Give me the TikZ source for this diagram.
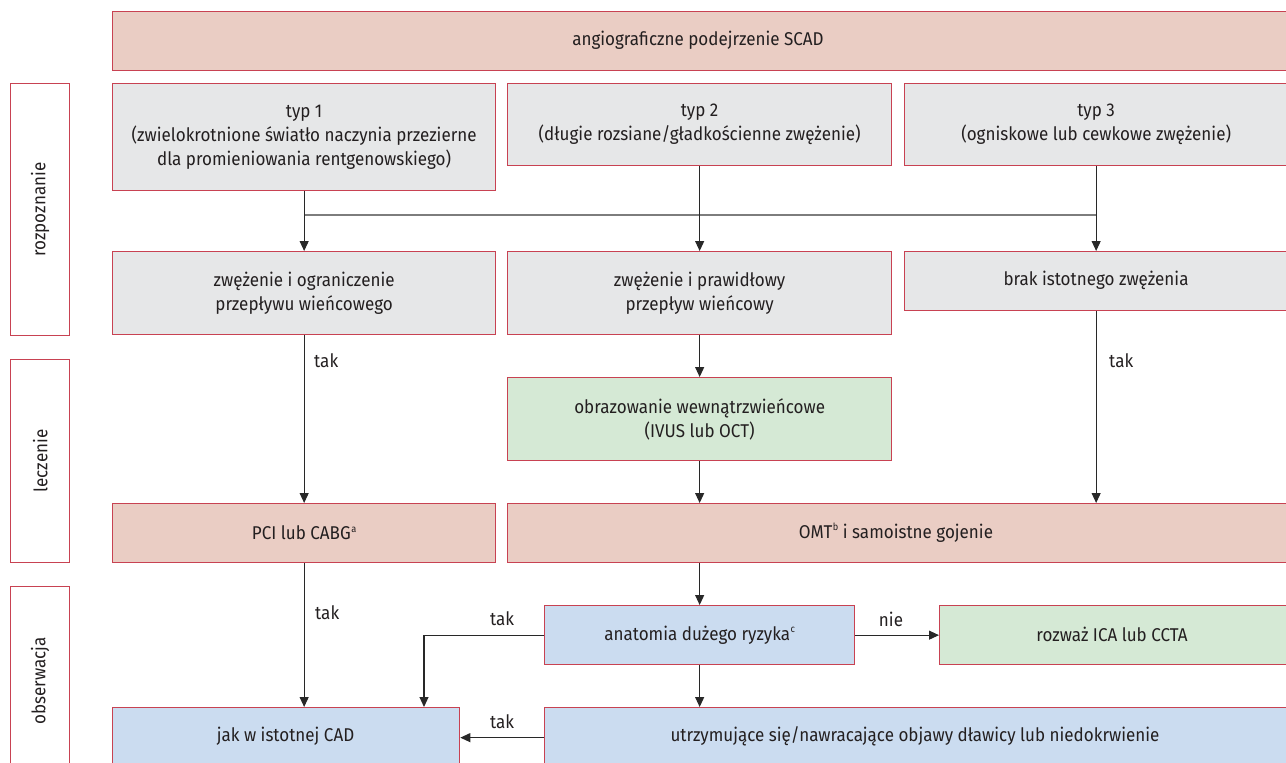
\documentclass[tikz,border=0pt]{standalone}
\usepackage{fontspec}
\setmainfont{Fira Sans}[FakeStretch=0.92]
\usetikzlibrary{arrows.meta}
\definecolor{redline}{RGB}{200,66,82}
\definecolor{pinkfill}{RGB}{234,205,196}
\definecolor{grayfill}{RGB}{230,231,232}
\definecolor{greenfill}{RGB}{213,233,213}
\definecolor{bluefill}{RGB}{203,220,240}
\definecolor{txt}{RGB}{35,31,32}
\definecolor{conn}{RGB}{40,40,40}
\definecolor{hconn}{RGB}{125,125,125}
\newcommand{\supmark}[1]{\kern0.5pt\raisebox{0.42em}{\fontsize{10}{10}\selectfont #1}}
\tikzset{
  bx/.style={draw=redline, line width=1.3pt, inner sep=0pt, anchor=north west, align=center, text=txt, font=\fontsize{18.5}{24}\selectfont},
  pinkbox/.style={bx, fill=pinkfill},
  graybox/.style={bx, fill=grayfill},
  greenbox/.style={bx, fill=greenfill},
  bluebox/.style={bx, fill=bluefill},
  sidebox/.style={bx, fill=white},
  arr/.style={draw=conn, line width=1.1pt, -{Triangle[length=10pt,width=9pt]}},
  hln/.style={draw=hconn, line width=1.1pt},
  lbl/.style={text=txt, font=\fontsize{18.5}{24}\selectfont, inner sep=0pt}
}
\begin{document}
\begin{tikzpicture}[x=1pt,y=-1pt]
\useasboundingbox (0,0) rectangle (1286,763);
\clip (0,0) rectangle (1286,763);
% side labels
\node[sidebox, minimum width=59pt, minimum height=252pt] (s1) at (10,83) {};
\node[lbl, rotate=90] at (s1.center) {rozpoznanie};
\node[sidebox, minimum width=59pt, minimum height=203pt] (s2) at (10,359) {};
\node[lbl, rotate=90] at (s2.center) {leczenie};
\node[sidebox, minimum width=59pt, minimum height=181pt] (s3) at (10,586) {};
\node[lbl, rotate=90] at ([yshift=-4pt]s3.center) {obserwacja};
% top
\node[pinkbox, minimum width=1175pt, minimum height=59pt] (top) at (112,11) {};
\node[lbl] at (698,40.5) {angiograficzne podejrzenie SCAD};
% row 1
\node[graybox, minimum width=383pt, minimum height=107pt] (t1) at (112,83) {typ 1\\(zwielokrotnione światło naczynia przezierne\\dla promieniowania rentgenowskiego)};
\node[graybox, minimum width=384pt, minimum height=82pt] (t2) at (507,83) {typ 2\\(długie rozsiane/gładkościenne zwężenie)};
\node[graybox, minimum width=383pt, minimum height=82pt] (t3) at (904,83) {typ 3\\(ogniskowe lub cewkowe zwężenie)};
% row 2
\node[graybox, minimum width=383pt, minimum height=83pt] (z1) at (112,251) {zwężenie i ograniczenie\\przepływu wieńcowego};
\node[graybox, minimum width=384pt, minimum height=83pt] (z2) at (507,251) {zwężenie i prawidłowy\\przepływ wieńcowy};
\node[graybox, minimum width=383pt, minimum height=59pt] (z3) at (904,251) {};
\node[lbl] at (1096,280.5) {brak istotnego zwężenia};
% imaging
\node[greenbox, minimum width=384pt, minimum height=83pt] (ob) at (507,377) {obrazowanie wewnątrzwieńcowe\\(IVUS lub OCT)};
% treatment
\node[pinkbox, minimum width=383pt, minimum height=59pt] (pci) at (112,503) {PCI lub CABG\supmark{a}};
\node[pinkbox, minimum width=780pt, minimum height=59pt] (omt) at (507,503) {};
\node[lbl] at (896,532.5) {OMT\supmark{b} i samoistne gojenie};
% observation
\node[bluebox, minimum width=310pt, minimum height=59pt] (an) at (544,605) {anatomia dużego ryzyka\supmark{c}};
\node[greenbox, minimum width=348pt, minimum height=59pt] (rz) at (939,605) {};
\node[lbl] at (1112,634.5) {rozważ ICA lub CCTA};
\node[bluebox, minimum width=347pt, minimum height=60pt] (jak) at (112,707) {};
\node[lbl] at (285.5,736) {jak w istotnej CAD};
\node[bluebox, minimum width=743pt, minimum height=60pt] (ut) at (544,707) {};
\node[lbl] at (915,736) {utrzymujące się/nawracające objawy dławicy lub niedokrwienie};
% connectors
\coordinate (hl) at (0,215);
\draw[hln] (t1.south |- hl) -- (t3.south |- hl);
\draw[arr] (t1.south) -- (z1.north);
\draw[arr] (t2.south) -- (z2.north);
\draw[arr] (t3.south) -- (z3.north);
\draw[arr] (z1.south) -- (pci.north);
\draw[arr] (z2.south) -- (ob.north);
\draw[arr] (ob.south) -- (omt.north -| ob.south);
\draw[arr] (z3.south) -- (omt.north -| z3.south);
\draw[arr] (pci.south) -- (jak.north -| pci.south);
\draw[arr] (omt.south -| an.north) -- (an.north);
\draw[arr] (an.east) -- (rz.west);
\draw[arr] (an.south) -- (ut.north -| an.south);
\coordinate (dn) at (424,707);
\draw[arr] (an.west) -| (dn);
\draw[arr] (ut.west) -- (jak.east);
% labels
\node[lbl, anchor=west] at (314,361) {tak};
\node[lbl, anchor=west] at (1109,361) {tak};
\node[lbl, anchor=west] at (315,613) {tak};
\node[lbl] at (502,619) {tak};
\node[lbl] at (891,619) {nie};
\node[lbl] at (502,722) {tak};
\end{tikzpicture}
\end{document}
